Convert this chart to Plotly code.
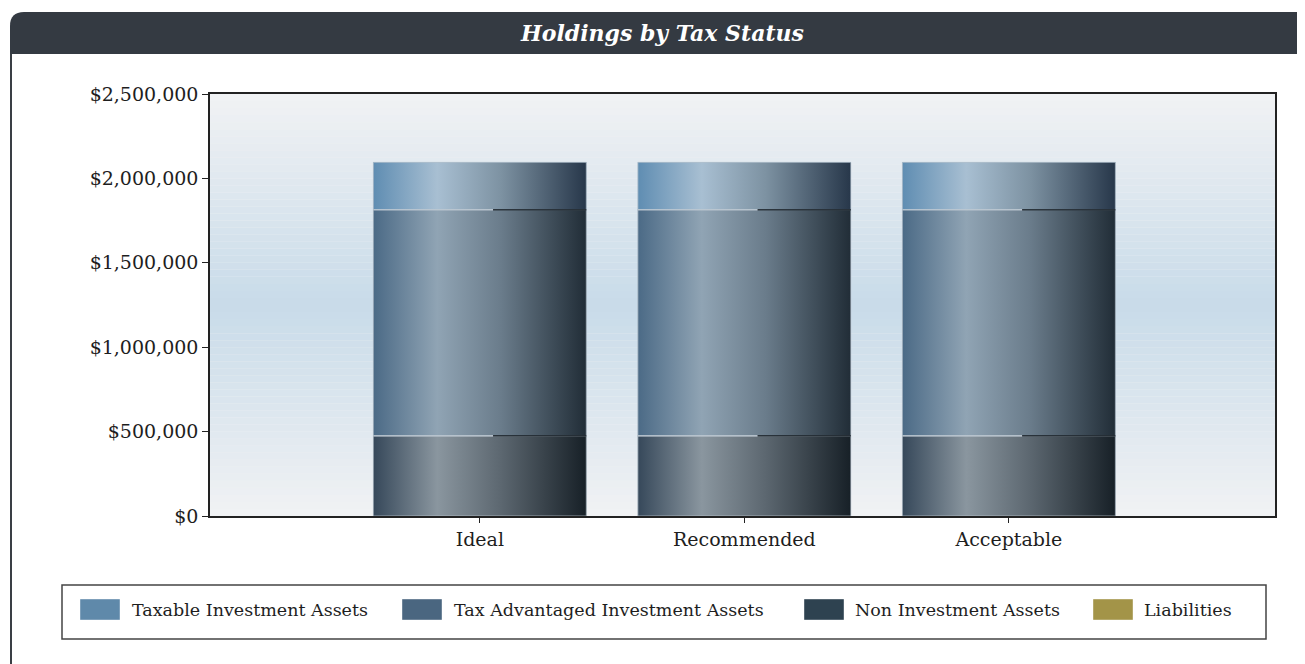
import plotly.graph_objects as go

# ------------------------------------------------------------------ #
# Data                                                                #
# ------------------------------------------------------------------ #
categories = ["Ideal", "Recommended", "Acceptable"]
non_investment = [475000, 475000, 475000]
tax_advantaged = [1340000, 1340000, 1340000]
taxable = [280000, 280000, 280000]
liabilities = [0, 0, 0]
y_ticks = [0, 500000, 1000000, 1500000, 2000000, 2500000]

# stacking order, bottom to top: (name, values, swatch colour, gradient)
series = [
    ("Non Investment Assets", non_investment, "#2e4250",
     [[0, "#36485a"], [0.3, "#8a969f"], [0.6, "#5c6770"], [1, "#172027"]]),
    ("Tax Advantaged Investment Assets", tax_advantaged, "#4a6680",
     [[0, "#4b6a86"], [0.3, "#90a4b4"], [0.6, "#6a7c8b"], [1, "#212d37"]]),
    ("Taxable Investment Assets", taxable, "#5f89aa",
     [[0, "#5f8db2"], [0.3, "#a8bfd2"], [0.6, "#7d92a2"], [1, "#27374a"]]),
]
liab_color = "#a39448"

# legend order as in the reference, with the screen x of swatch and text
legend_items = [
    ("Taxable Investment Assets", "#5f89aa", 80, 130),
    ("Tax Advantaged Investment Assets", "#4a6680", 402, 452),
    ("Non Investment Assets", "#2e4250", 804, 853),
    ("Liabilities", liab_color, 1093, 1142),
]

FONT = "DejaVu Serif"
BAR_W = 0.805

# the page adds an 8px body margin, so the figure is drawn 8px smaller
OFF = 8
SW, SH = 1305, 664
L, R, T, B = 210, 1275, 94, 516     # plot area in screen pixels


def px(x):
    return (x - L) / (R - L)


def py(y):
    return (B - y) / (B - T)


def mix(c1, c2, t):
    a = [int(c1[i:i + 2], 16) for i in (1, 3, 5)]
    b = [int(c2[i:i + 2], 16) for i in (1, 3, 5)]
    return "rgb({},{},{})".format(*[round(a[k] + (b[k] - a[k]) * t) for k in range(3)])


positions = list(range(len(categories)))

fig = go.Figure()

# real stacked bars (solid) + cylinder-look gradient overlay from the same values
bases = [0] * len(categories)
for name, vals, col, grad in series:
    fig.add_trace(go.Bar(
        x=positions, y=vals, base=bases, width=BAR_W, name=name,
        marker=dict(color=col, line=dict(width=0)), showlegend=False,
        hovertemplate="%{y:$,.0f}<extra>" + name + "</extra>",
    ))
    for p, b0, v in zip(positions, bases, vals):
        x0, x1 = p - BAR_W / 2, p + BAR_W / 2
        fig.add_trace(go.Scatter(
            x=[x0, x1, x1, x0, x0], y=[b0, b0, b0 + v, b0 + v, b0],
            mode="lines", fill="toself",
            fillgradient=dict(type="horizontal", colorscale=grad),
            line=dict(width=1, color="rgba(185,196,206,0.7)"),
            showlegend=False, hoverinfo="skip",
        ))
        if b0 > 0:
            # rim where one segment sits on the other
            fig.add_trace(go.Scatter(
                x=[x0, p + 0.05], y=[b0, b0], mode="lines",
                line=dict(width=1.5, color="rgba(190,200,210,0.75)"),
                showlegend=False, hoverinfo="skip",
            ))
            fig.add_trace(go.Scatter(
                x=[p + 0.05, x1], y=[b0, b0], mode="lines",
                line=dict(width=1.5, color="rgba(22,30,38,0.85)"),
                showlegend=False, hoverinfo="skip",
            ))
    bases = [b + v for b, v in zip(bases, vals)]

fig.add_trace(go.Bar(
    x=positions, y=liabilities, width=BAR_W, name="Liabilities",
    marker=dict(color=liab_color), showlegend=False, hoverinfo="skip",
))

# ------------------------------------------------------------------ #
# Decoration: card header, border, background, legend                 #
# ------------------------------------------------------------------ #
shapes = []
n = 60
for i in range(n):
    t = (i + 0.5) / n
    c = mix("#f1f2f4", "#c8dbe9", 1 - abs(t - 0.5) * 2)
    shapes.append(dict(type="rect", xref="paper", yref="paper", x0=0, x1=1,
                       y0=i / n, y1=(i + 1) / n, fillcolor=c, line=dict(width=0),
                       layer="below"))

header = ("M {a},{b} L {a},{c} Q {a},{d} {e},{d} L {f},{d} L {f},{b} Z").format(
    a=px(10), b=py(54), c=py(26), d=py(12), e=px(24), f=px(1305))
shapes.append(dict(type="path", xref="paper", yref="paper", path=header,
                   fillcolor="#343a42", line=dict(width=0)))
shapes.append(dict(type="line", xref="paper", yref="paper", x0=px(11), x1=px(11),
                   y0=py(54), y1=py(664), line=dict(color="#3a3f45", width=2)))
shapes.append(dict(type="rect", xref="paper", yref="paper", x0=px(62), x1=px(1266),
                   y0=py(585), y1=py(639), fillcolor="white",
                   line=dict(color="#444", width=1.5), layer="below"))

annotations = [dict(
    text="Holdings by Tax Status", xref="paper", yref="paper",
    x=px(662), y=py(33), showarrow=False, xanchor="center", yanchor="middle",
    font=dict(family=FONT, size=22, color="white", weight="bold", style="italic"),
)]

for label, col, sx, tx in legend_items:
    shapes.append(dict(type="rect", xref="paper", yref="paper",
                       x0=px(sx), x1=px(sx + 40), y0=py(599), y1=py(620),
                       fillcolor=col, line=dict(color="rgba(255,255,255,0.4)", width=1)))
    annotations.append(dict(
        text=label, xref="paper", yref="paper", x=px(tx), y=py(610),
        showarrow=False, xanchor="left", yanchor="middle",
        font=dict(family=FONT, size=17.5, color="#1e1e1e"),
    ))

fig.update_layout(
    width=SW - OFF, height=SH - OFF,
    margin=dict(l=L - OFF, r=SW - R, t=T - OFF, b=SH - B),
    paper_bgcolor="white", plot_bgcolor="#f1f2f4",
    barmode="overlay", showlegend=False,
    shapes=shapes, annotations=annotations,
    font=dict(family=FONT, color="#1e1e1e", size=16),
    xaxis=dict(
        range=[-1.02, 3.006], tickvals=positions, ticktext=categories,
        ticks="outside", ticklen=5, tickcolor="#222", showgrid=False, zeroline=False,
        showline=True, linecolor="#222", linewidth=1.5, mirror=True,
        tickfont=dict(family=FONT, size=19, color="#1e1e1e"),
    ),
    yaxis=dict(
        range=[0, 2500000], tickvals=y_ticks, tickformat="$,.0f",
        ticks="outside", ticklen=6, tickcolor="#222", showgrid=False, zeroline=False,
        showline=True, linecolor="#222", linewidth=1.5, mirror=True,
        tickfont=dict(family=FONT, size=19, color="#1e1e1e"),
    ),
    hovermode="closest",
)

fig.write_html("out.html")
